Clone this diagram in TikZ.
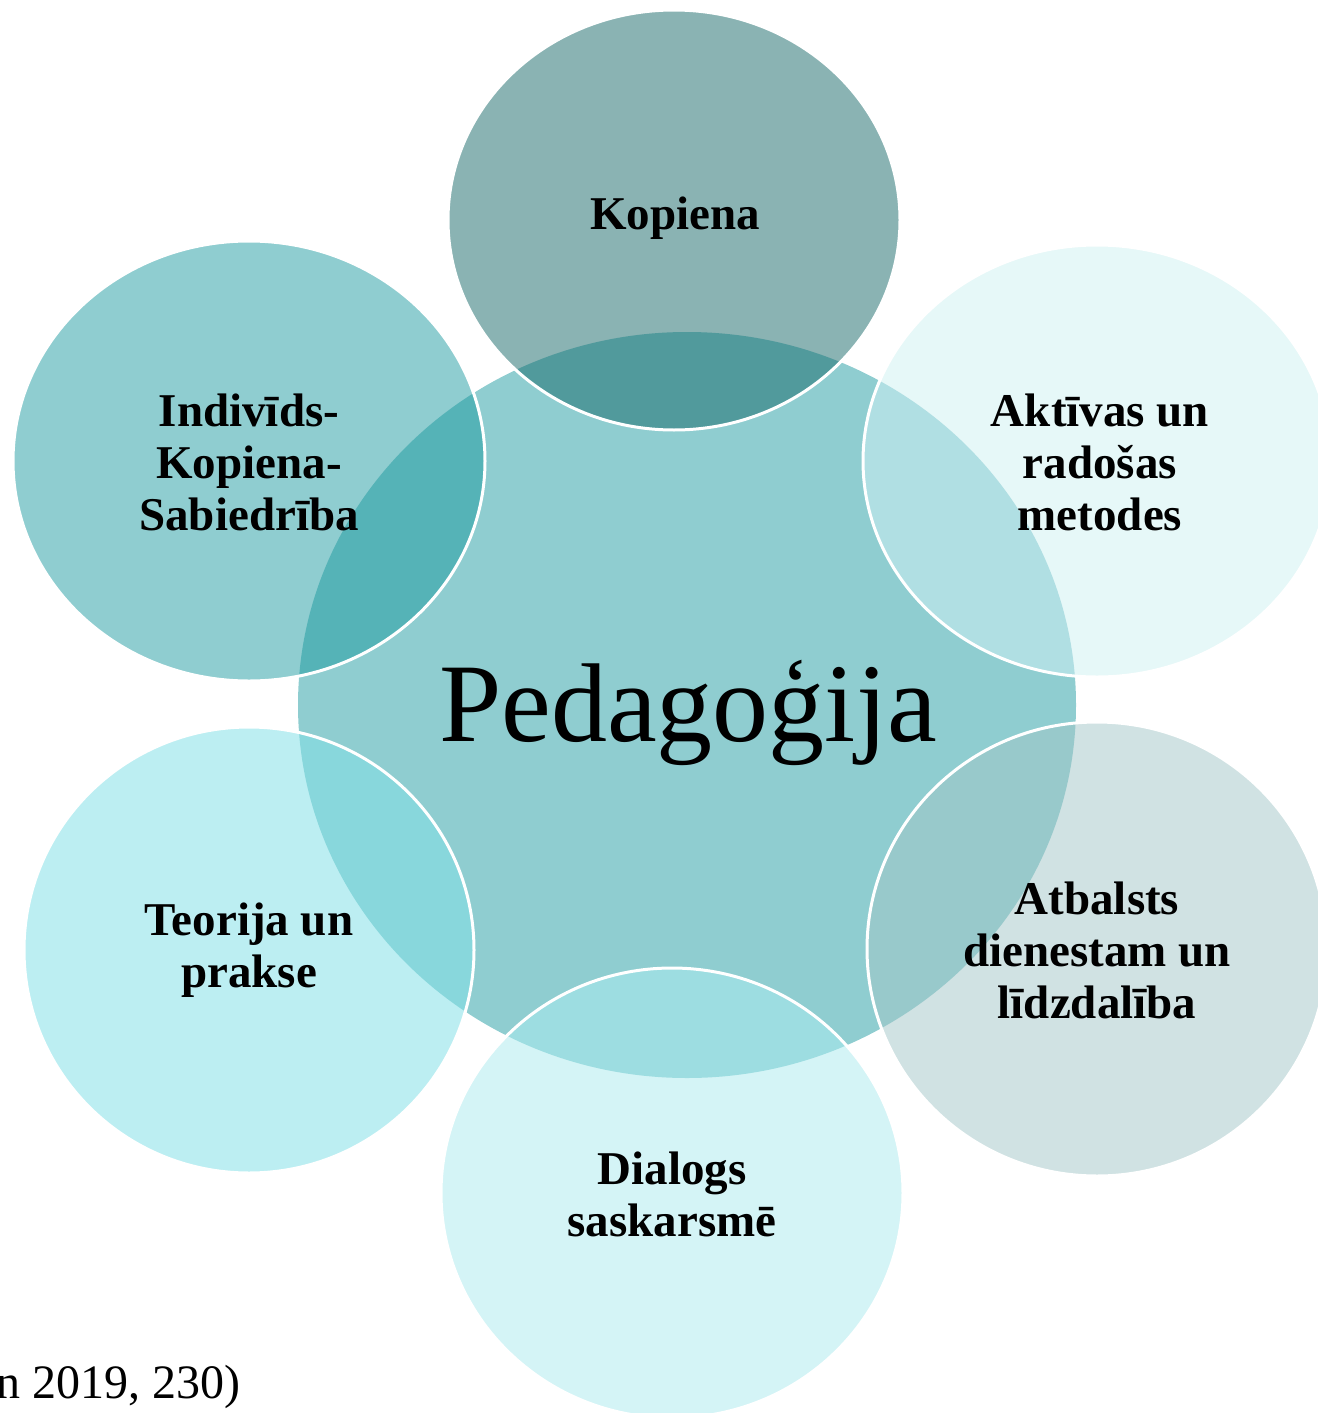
\documentclass[tikz,border=0pt]{standalone}
\usepackage{fontspec}
\setmainfont{Liberation Serif}
\definecolor{cCenter}{HTML}{8FCDD0}
\definecolor{cKop}{HTML}{8AB3B3}\definecolor{oKop}{HTML}{519A9C}
\definecolor{cAkt}{HTML}{E6F8F8}\definecolor{oAkt}{HTML}{B0DFE3}
\definecolor{cAtb}{HTML}{D0E2E3}\definecolor{oAtb}{HTML}{98C9CB}
\definecolor{cDia}{HTML}{D4F4F6}\definecolor{oDia}{HTML}{9DDDE1}
\definecolor{cTeo}{HTML}{BCEEF2}\definecolor{oTeo}{HTML}{88D7DC}
\definecolor{cInd}{HTML}{8FCDD0}\definecolor{oInd}{HTML}{55B3B7}
\tikzset{
  lbl/.style={inner sep=0pt, align=center, font=\fontsize{47}{52}\selectfont\bfseries},
  rim/.style={draw=white, line width=3pt}
}
\begin{document}
\begin{tikzpicture}[x=1pt,y=-1pt]
\useasboundingbox (0,0) rectangle (1317,1413);
% geometry
\def\cen{(687,705) ellipse [x radius=389, y radius=373]}
\def\kop{(674,220) ellipse [x radius=226, y radius=210]}
\def\akt{(1097,461) ellipse [x radius=234, y radius=216]}
\def\atb{(1097,949) ellipse [x radius=230, y radius=227]}
\def\dia{(672,1193) ellipse [x radius=231, y radius=225]}
\def\teo{(249,950) ellipse [x radius=225, y radius=223]}
\def\ind{(249,461) ellipse [x radius=236, y radius=220]}
% fills
\fill[cCenter] \cen;
\fill[cKop] \kop;
\fill[cAkt] \akt;
\fill[cAtb] \atb;
\fill[cDia] \dia;
\fill[cTeo] \teo;
\fill[cInd] \ind;
% overlaps with the centre
\begin{scope}
  \clip \cen;
  \fill[oKop] \kop;
  \fill[oAkt] \akt;
  \fill[oAtb] \atb;
  \fill[oDia] \dia;
  \fill[oTeo] \teo;
  \fill[oInd] \ind;
\end{scope}
% white rims
\draw[rim] \kop;
\draw[rim] \akt;
\draw[rim] \atb;
\draw[rim] \dia;
\draw[rim] \teo;
\draw[rim] \ind;
% texts
\node[anchor=base, inner sep=0pt, font=\fontsize{112}{120}\selectfont] (ped) at (688,741) {Pedagoģija};
\node[lbl] (tkop) at (675,218) {Kopiena};
\node[lbl] (tind) at (249,462) {Indivīds-\\Kopiena-\\Sabiedrība};
\node[lbl] (takt) at (1100,462) {Aktīvas un\\radošas\\metodes};
\node[lbl] (tatb) at (1097,950) {Atbalsts\\dienestam un\\līdzdalība};
\node[lbl] (tteo) at (249,950) {Teorija un\\prakse};
\node[lbl] (tdia) at (672,1194) {Dialogs\\saskarsmē};
\node[anchor=base east, inner sep=0pt, font=\fontsize{48}{52}\selectfont] (src) at (241,1398) {n 2019, 230)};
\end{tikzpicture}
\end{document}
